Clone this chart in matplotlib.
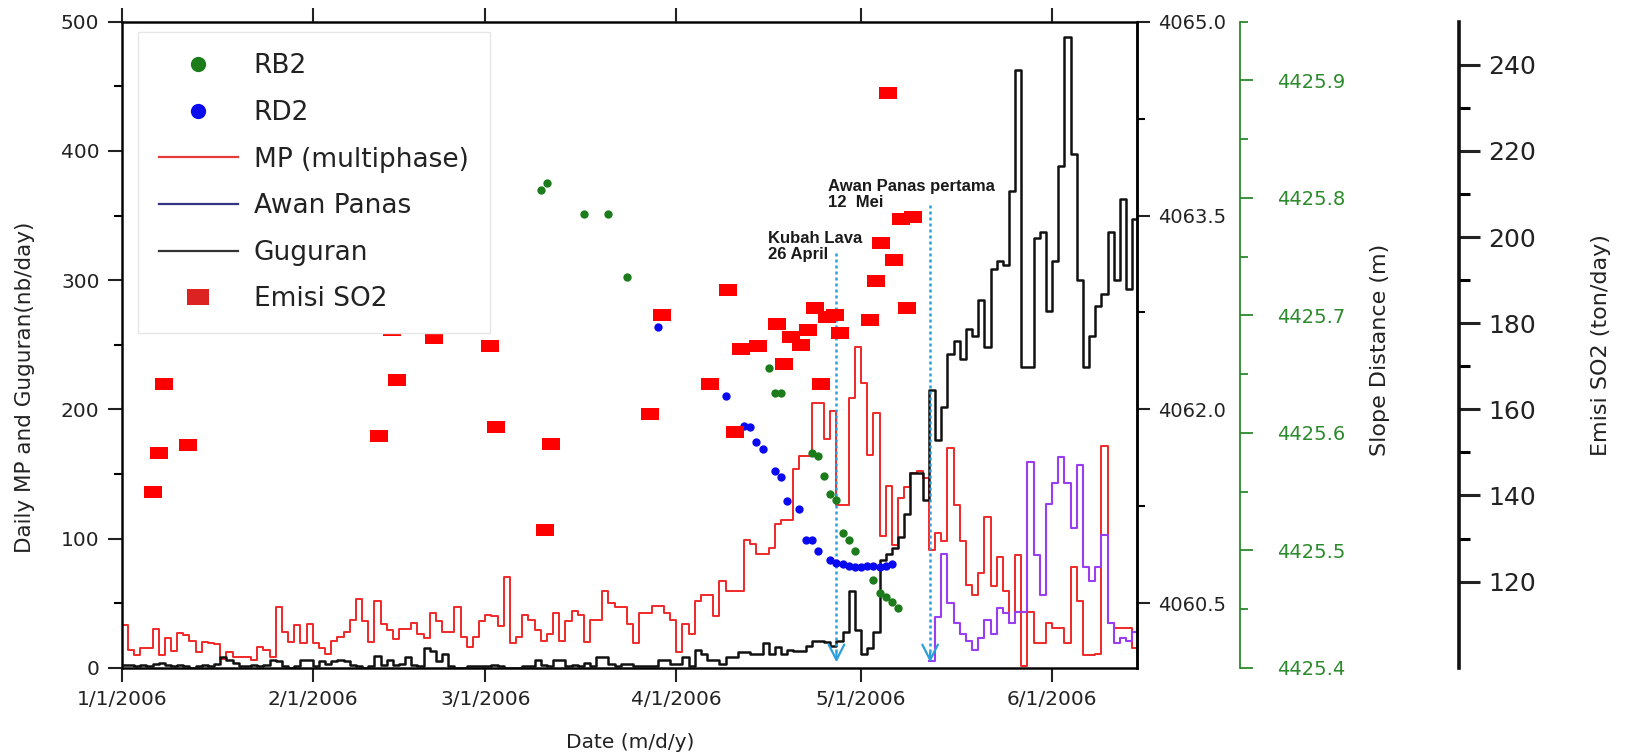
import numpy as np
import pandas as pd
import matplotlib
matplotlib.use("Agg")
import matplotlib.pyplot as plt
import matplotlib.dates as mdates
from matplotlib.lines import Line2D
from matplotlib.legend_handler import HandlerLine2D
from matplotlib.ticker import FixedLocator, FuncFormatter, FormatStrFormatter

plt.rcParams["font.family"] = "DejaVu Sans"

START = pd.Timestamp("2006-01-01")

# daily counts, day 0 = 1/1/2006
mp_daily = [33, 14, 10, 15, 15, 30, 10, 23, 13, 27,
            25, 21, 12, 20, 19, 18, 7, 12, 8, 8,
            8, 6, 16, 14, 8, 47, 28, 20, 33, 19,
            34, 19, 15, 11, 21, 24, 28, 37, 53, 36,
            20, 52, 34, 29, 22, 30, 30, 35, 26, 23,
            42, 36, 28, 28, 47, 24, 16, 24, 36, 41,
            40, 32, 70, 19, 24, 41, 37, 29, 21, 26,
            42, 21, 36, 44, 41, 20, 37, 37, 59, 50,
            47, 47, 34, 19, 42, 42, 48, 48, 42, 37,
            12, 34, 26, 52, 56, 56, 40, 67, 59, 59,
            59, 99, 96, 88, 88, 93, 111, 114, 114, 154,
            164, 164, 205, 205, 177, 199, 126, 126, 209, 248,
            220, 165, 197, 102, 141, 95, 131, 140, 151, 152,
            147, 91, 104, 98, 170, 126, 98, 64, 56, 73,
            117, 63, 86, 59, 35, 87, 1, 43, 19, 19,
            35, 31, 31, 19, 78, 52, 10, 10, 11, 172,
            35, 31, 31, 31, 15]

guguran_daily = [2, 2, 1, 2, 1, 3, 4, 2, 1, 2,
                 1, 0, 1, 2, 1, 3, 8, 6, 4, 1,
                 1, 2, 1, 2, 6, 5, 1, 0, 1, 6,
                 6, 1, 5, 3, 5, 6, 5, 2, 1, 0,
                 1, 9, 2, 6, 2, 3, 8, 2, 1, 15,
                 13, 5, 11, 1, 0, 0, 1, 1, 1, 1,
                 2, 1, 0, 0, 0, 1, 1, 6, 2, 1,
                 6, 6, 1, 2, 1, 4, 1, 8, 8, 3,
                 1, 3, 3, 1, 1, 1, 1, 6, 6, 3,
                 3, 8, 1, 14, 11, 6, 6, 3, 8, 8,
                 12, 12, 11, 11, 19, 11, 16, 11, 14, 13,
                 13, 17, 21, 21, 20, 17, 21, 28, 59, 29,
                 11, 15, 28, 83, 88, 93, 101, 119, 151, 151,
                 130, 215, 176, 202, 243, 253, 239, 262, 257, 285,
                 248, 309, 315, 312, 369, 463, 233, 233, 333, 337,
                 276, 315, 388, 488, 398, 300, 233, 257, 280, 289,
                 337, 300, 363, 293, 347]

awan_panas_first_day = 131
awan_panas_daily = [5, 39, 88, 50, 35, 26, 21, 14, 23, 37,
                    26, 46, 42, 35, 43, 43, 159, 87, 56, 127,
                    143, 163, 143, 108, 157, 78, 67, 78, 103, 35,
                    19, 23, 21, 28]

# EDM slope distance (m)
rb2_day = [68, 69, 75, 79, 82, 105, 106, 107, 112, 113, 114, 115, 116, 117,
           118, 119, 122, 123, 124, 125, 126]
rb2_dist = [4425.807, 4425.813, 4425.786, 4425.786, 4425.733, 4425.655,
            4425.634, 4425.634, 4425.583, 4425.580, 4425.563, 4425.548,
            4425.543, 4425.515, 4425.509, 4425.499, 4425.475, 4425.464,
            4425.460, 4425.456, 4425.451]

rd2_day = [87, 98, 101, 102, 103, 104, 106, 107, 108, 110, 111, 112, 113,
           115, 116, 117, 118, 119, 120, 121, 122, 123, 124, 125]
rd2_dist = [4062.64, 4062.10, 4061.87, 4061.86, 4061.75, 4061.69, 4061.52,
            4061.48, 4061.29, 4061.23, 4060.99, 4060.99, 4060.90,
            4060.83, 4060.81, 4060.80, 4060.79, 4060.78, 4060.78, 4060.79,
            4060.79, 4060.78, 4060.79, 4060.80]

# SO2 emission (ton/day)
so2_day = [5.0, 6.0, 6.9, 10.8, 41.7, 44.7, 43.9, 50.7, 59.8, 60.7, 68.7, 69.7,
           85.7, 87.7, 95.4, 98.4, 99.5, 100.5, 103.3, 106.4, 107.5, 108.7,
           110.3, 111.4, 112.5, 114.4, 115.7, 116.6, 113.5, 121.4, 122.4,
           123.3, 125.4, 126.5, 128.5, 127.4, 124.4]
so2_emisi = [140.8, 149.8, 165.9, 151.8, 153.8, 166.8, 178.5, 176.5, 174.8,
             155.8, 131.9, 152.0, 158.9, 181.8, 165.8, 187.7, 154.8, 173.9,
             174.8, 179.8, 170.5, 176.9, 175.0, 178.5, 183.6, 181.5, 181.9,
             177.7, 165.9, 180.8, 189.8, 198.7, 194.6, 204.1, 204.6, 183.6,
             233.5]

event_text = ["Kubah Lava\n26 April", "Awan Panas pertama\n12  Mei"]
event_day = [116.0, 131.2]
event_top = [322, 359]
event_text_day = [104.9, 114.7]
event_text_y = [314, 354]

x_end_day = 164.83


def to_dates(days):
    return (START + pd.to_timedelta(np.asarray(days, dtype=float), unit="D")).values


def step_xy(first_day, values):
    days = np.arange(first_day, first_day + len(values) + 1)
    return to_dates(days), list(values) + [values[-1]]


class MarkerAt(HandlerLine2D):
    # legend marker not centred on the handle but shifted to the right
    def __init__(self, frac, **kw):
        super().__init__(**kw)
        self.frac = frac

    def get_xdata(self, legend, xdescent, ydescent, width, height, fontsize):
        xdata, _ = super().get_xdata(legend, xdescent, ydescent, width, height, fontsize)
        return xdata, np.array([-xdescent + self.frac * width])


GREEN = "#2b8a2b"
TXT = "#222222"
RECT = [(-1.4, -1), (1.4, -1), (1.4, 1), (-1.4, 1), (-1.4, -1)]

fig = plt.figure(figsize=(16.25, 7.55), dpi=100)
ax = fig.add_axes([0.0749, 0.1156, 0.625, 0.8556])

x, y = step_xy(0, mp_daily)
ax.step(x, y, where="post", color="#f02828", lw=1.4, zorder=2)
x, y = step_xy(awan_panas_first_day, awan_panas_daily)
ax.step(x, y, where="post", color="#9a3cf0", lw=1.5, zorder=2)
x, y = step_xy(0, guguran_daily)
ax.step(x, y, where="post", color="#111111", lw=1.8, zorder=3)

ev_x = to_dates(event_day)
ax.vlines(ev_x, 12, event_top, colors="#2aa0dc", linestyles=(0, (1.2, 1.2)), lw=1.8, zorder=4)
for ex, tx, ty, label in zip(ev_x, to_dates(event_text_day), event_text_y, event_text):
    ax.annotate("", xy=(ex, 2), xytext=(ex, 14),
                arrowprops=dict(arrowstyle="->,head_length=0.55,head_width=0.28",
                                color="#2aa0dc", lw=1.6, mutation_scale=20), zorder=4)
    ax.text(tx, ty, label, fontsize=12, fontweight="bold", family="Liberation Sans",
            color="#1a1a1a", va="bottom", ha="left", linespacing=1.1, zorder=5)

ax.set_xlim(to_dates([0])[0], to_dates([x_end_day])[0])
ax.set_ylim(0, 500)
ax.xaxis.set_major_locator(mdates.MonthLocator())
ax.xaxis.set_major_formatter(FuncFormatter(
    lambda v, pos: "{0.month}/{0.day}/{0.year}".format(mdates.num2date(v))))
ax.set_yticks(range(0, 501, 100))
ax.yaxis.set_minor_locator(FixedLocator(range(50, 500, 100)))
ax.tick_params(axis="both", which="major", direction="out", length=10, width=1.5,
               labelsize=14.5, colors=TXT, pad=6)
ax.tick_params(axis="y", which="minor", direction="out", length=6, width=1.5)
ax.tick_params(axis="x", top=True, labeltop=False)
for s in ax.spines.values():
    s.set_linewidth(1.8)
    s.set_color("#111111")

# right black axis (RD2)
ax_b = ax.twinx()
ax_b.plot(to_dates(rd2_day), rd2_dist, "o", color="#0a0af0", ms=6, mew=0, zorder=5)
ax_b.set_ylim(4060.0, 4065.0)
ax_b.set_yticks([4060.5, 4062.0, 4063.5, 4065.0])
ax_b.yaxis.set_minor_locator(FixedLocator([4061.25, 4062.75, 4064.25]))
ax_b.yaxis.set_major_formatter(FormatStrFormatter("%.1f"))
ax_b.tick_params(axis="y", which="major", direction="out", length=9, width=1.5,
                 labelsize=14, colors=TXT, pad=6)
ax_b.tick_params(axis="y", which="minor", direction="out", length=6, width=1.5)
ax_b.spines["right"].set_linewidth(1.8)

# green axis (RB2)
ax_g = ax.twinx()
ax_g.plot(to_dates(rb2_day), rb2_dist, "o", color="#1c7c1c", ms=6, mew=0, zorder=5)
ax_g.spines["right"].set_position(("axes", 1.1011))
for side in ["left", "top", "bottom"]:
    ax_g.spines[side].set_visible(False)
ax_g.spines["right"].set_color(GREEN)
ax_g.spines["right"].set_linewidth(1.3)
ax_g.set_ylim(4425.4, 4425.95)
ax_g.set_yticks([4425.4, 4425.5, 4425.6, 4425.7, 4425.8, 4425.9])
ax_g.yaxis.set_minor_locator(FixedLocator([4425.45, 4425.55, 4425.65, 4425.75, 4425.85, 4425.95]))
ax_g.yaxis.set_major_formatter(FormatStrFormatter("%.1f"))
ax_g.tick_params(axis="y", which="major", direction="out", length=9, width=1.3,
                 labelsize=14, colors=GREEN, pad=18)
ax_g.tick_params(axis="y", which="minor", direction="out", length=6, width=1.3, colors=GREEN)

# SO2 axis
ax_s = ax.twinx()
ax_s.plot(to_dates(so2_day), so2_emisi, ls="none", marker=RECT, color="#ff0000",
          ms=13, mew=0, zorder=6)
ax_s.spines["right"].set_position(("axes", 1.317))
for side in ["left", "top", "bottom"]:
    ax_s.spines[side].set_visible(False)
ax_s.spines["right"].set_linewidth(2.6)
ax_s.spines["right"].set_color("#111111")
ax_s.set_ylim(100, 250)
ax_s.set_yticks(range(120, 241, 20))
ax_s.yaxis.set_minor_locator(FixedLocator(range(130, 231, 20)))
ax_s.tick_params(axis="y", which="major", direction="out", length=15, width=2.2,
                 labelsize=18, colors=TXT, pad=6)
ax_s.tick_params(axis="y", which="minor", direction="out", length=8, width=2.2)

fig.text(25 / 1625, 1 - 387 / 755, "Daily MP and Guguran(nb/day)", rotation=90,
         ha="center", va="center", fontsize=15.5, color=TXT)
fig.text(630 / 1625, 1 - 743 / 755, "Date (m/d/y)", ha="center", va="center",
         fontsize=14.5, color=TXT)
fig.text(1380 / 1625, 1 - 350 / 755, "Slope Distance (m)", rotation=90,
         ha="center", va="center", fontsize=16, color=TXT)
fig.text(1601 / 1625, 1 - 345 / 755, "Emisi SO2 (ton/day)", rotation=90,
         ha="center", va="center", fontsize=16, color=TXT)

h_rb2 = Line2D([], [], ls="none", marker="o", color="#1c7c1c", ms=11, mew=0, label="RB2")
h_rd2 = Line2D([], [], ls="none", marker="o", color="#0a0af0", ms=11, mew=0, label="RD2")
h_so2 = Line2D([], [], ls="none", marker=RECT, color="#dd2222", ms=16, mew=0, label="Emisi SO2")
handles = [
    h_rb2,
    h_rd2,
    Line2D([], [], color="#e8393b", lw=1.6, label="MP (multiphase)"),
    Line2D([], [], color="#333388", lw=1.6, label="Awan Panas"),
    Line2D([], [], color="#333333", lw=1.6, label="Guguran"),
    h_so2,
]
leg = ax_s.legend(handles=handles, loc="upper left", bbox_to_anchor=(0.0156, 0.9836),
                  bbox_transform=ax.transAxes, borderaxespad=0, fontsize=19,
                  labelspacing=0.78, handlelength=3.0, handletextpad=0.6, borderpad=0.8,
                  fancybox=False, framealpha=1, edgecolor="#e6e6e6",
                  handler_map={h_rb2: MarkerAt(0.92), h_rd2: MarkerAt(0.92),
                               h_so2: MarkerAt(0.72)})
for t in leg.get_texts():
    t.set_color(TXT)
leg.set_zorder(10)

fig.savefig("out.png", dpi=100)
